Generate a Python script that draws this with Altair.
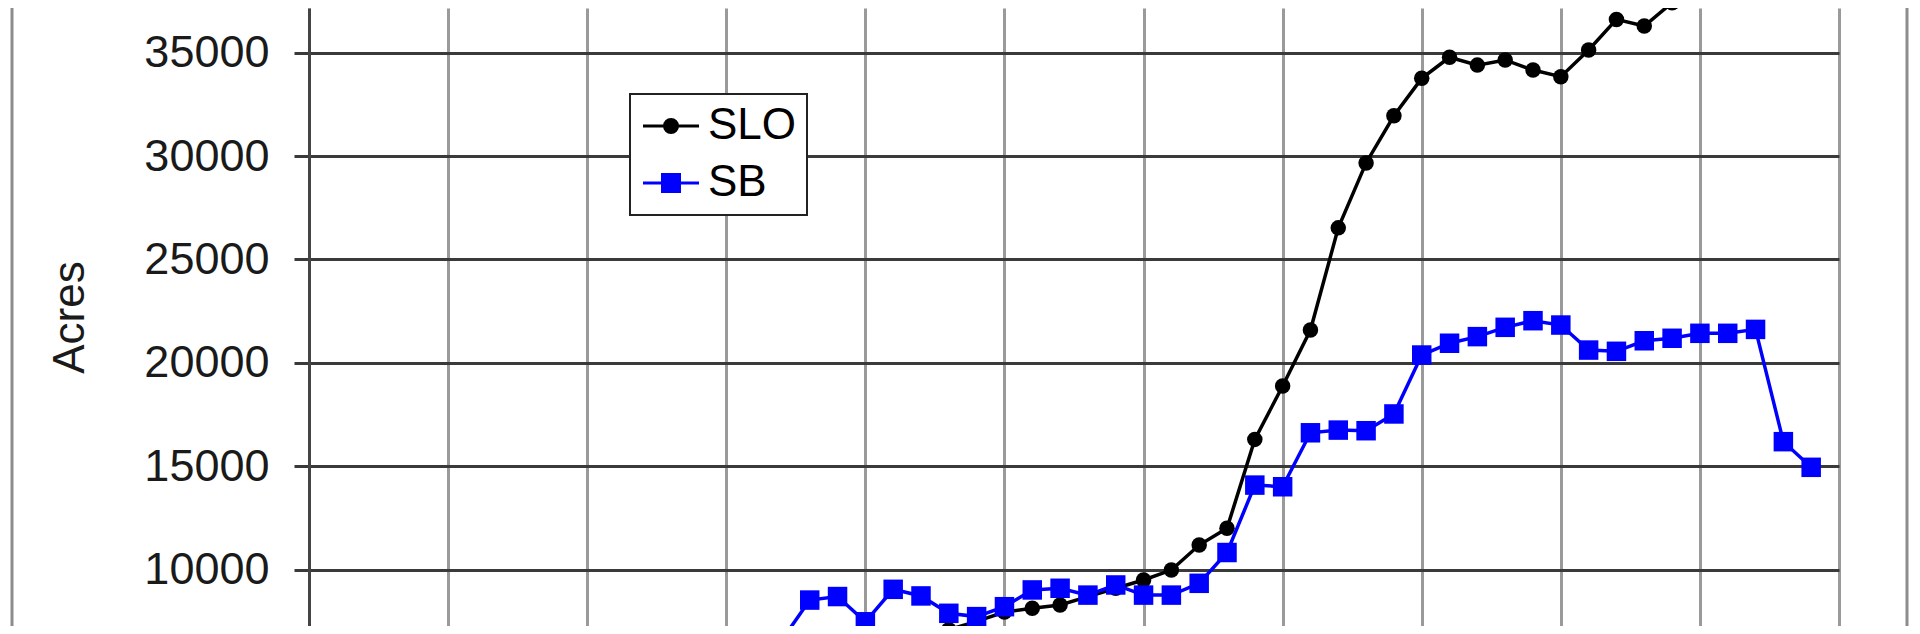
import altair as alt
import pandas as pd

# ---- data ----
slo_years = list(range(1971, 2001))
slo_acres = [6300, 6700, 7100, 7500, 7950, 8130, 8290, 8700, 9100, 9500,
             9980, 11190, 12000, 16300, 18880, 21590, 26530, 29670, 31950, 33760,
             34780, 34400, 34650, 34160, 33840, 35130, 36610, 36290, 37420, 38500]

sb_years = list(range(1967, 2005))
sb_acres = [6600, 8530, 8700, 7480, 9050, 8730, 7890, 7730, 8210, 9020,
            9100, 8770, 9260, 8770, 8770, 9340, 10830, 14090, 14010, 16620,
            16750, 16720, 17530, 20380, 20950, 21270, 21720, 22040, 21830, 20620,
            20560, 21070, 21190, 21430, 21430, 21620, 16190, 14950]

series_names = ["SLO", "SB"]
series_colors = ["#000000", "#0000FF"]
y_ticks = [10000, 15000, 20000, 25000, 30000, 35000]
x_grid = list(range(1950, 2006, 5))

df = pd.concat([
    pd.DataFrame({"year": slo_years, "acres": slo_acres, "series": "SLO"}),
    pd.DataFrame({"year": sb_years, "acres": sb_acres, "series": "SB"}),
], ignore_index=True)

FONT = "Liberation Sans"
W, H = 1530, 618

x_enc = alt.X("year:Q",
              scale=alt.Scale(domain=[1950, 2005], nice=False, zero=False),
              axis=alt.Axis(values=x_grid, labels=False, ticks=False, domain=False,
                            grid=True, gridColor="#9a9a9a", gridWidth=3, title=None))
y_enc = alt.Y("acres:Q",
              scale=alt.Scale(domain=[7276, 37162], nice=False, zero=False),
              axis=alt.Axis(values=y_ticks, format="d", grid=True, gridColor="#3a3a3a",
                            gridWidth=3, tickSize=15, tickColor="#3a3a3a", tickWidth=3,
                            domain=True, domainColor="#444444", domainWidth=3,
                            labelFont=FONT, labelFontSize=45, labelColor="#1a1a1a",
                            labelPadding=25, title="Acres", titleFont=FONT,
                            titleFontSize=44, titleFontWeight="normal", titleColor="#1a1a1a",
                            titleX=-226, titleBaseline="alphabetic"))

base = alt.Chart(df)

line_slo = base.transform_filter("datum.series == 'SLO'").mark_line(
    color=series_colors[0], strokeWidth=3.5, clip=True).encode(x=x_enc, y=y_enc)
pts_slo = base.transform_filter("datum.series == 'SLO'").mark_point(
    shape="circle", filled=True, size=240, color=series_colors[0], opacity=1, clip=True
).encode(x=x_enc, y=y_enc)
line_sb = base.transform_filter("datum.series == 'SB'").mark_line(
    color=series_colors[1], strokeWidth=3.5, clip=True).encode(x=x_enc, y=y_enc)
pts_sb = base.transform_filter("datum.series == 'SB'").mark_point(
    shape="square", filled=True, size=380, color=series_colors[1], opacity=1, clip=True
).encode(x=x_enc, y=y_enc)

path_c = "M-3.5,0L3.5,0M0.8125,0A0.8125,0.8125,0,1,1,-0.8125,0A0.8125,0.8125,0,1,1,0.8125,0Z"
path_s = "M-3.5,0L3.5,0M-1.0625,-1.0625L1.0625,-1.0625L1.0625,1.0625L-1.0625,1.0625Z"

leg = alt.Legend(orient="none", legendX=321, legendY=86, title=None,
                 labelFont=FONT, labelFontSize=44, labelColor="#000000",
                 symbolSize=256, symbolStrokeWidth=3, symbolOffset=9, labelOffset=15,
                 padding=10, rowPadding=13, strokeColor="#222222", fillColor="#ffffff")

legend_layer = base.transform_filter("false").mark_point(
    filled=True, size=256, strokeWidth=3, opacity=1
).encode(
    x=x_enc, y=y_enc,
    shape=alt.Shape("series:N", scale=alt.Scale(domain=series_names, range=[path_c, path_s]), legend=leg),
    fill=alt.Fill("series:N", scale=alt.Scale(domain=series_names, range=series_colors), legend=leg),
    stroke=alt.Stroke("series:N", scale=alt.Scale(domain=series_names, range=series_colors), legend=leg),
)

border = alt.Chart(pd.DataFrame({"b": [0]})).mark_rule(color="#8c8c8c", strokeWidth=3).encode(
    x=alt.value(-297), y=alt.value(0), y2=alt.value(H))
border_r = alt.Chart(pd.DataFrame({"b": [0]})).mark_rule(color="#8c8c8c", strokeWidth=3).encode(
    x=alt.value(1598), y=alt.value(0), y2=alt.value(H))

chart = alt.layer(line_slo, pts_slo, line_sb, pts_sb, legend_layer, border, border_r).properties(
    width=W, height=H,
    autosize=alt.AutoSizeParams(type="none"),
    padding={"left": 301, "top": 0, "right": 70, "bottom": 0},
    background="white",
).configure_view(stroke=None).configure_legend(strokeWidth=2)

chart.save("out.html", embed_options={"renderer": "svg", "actions": False})
